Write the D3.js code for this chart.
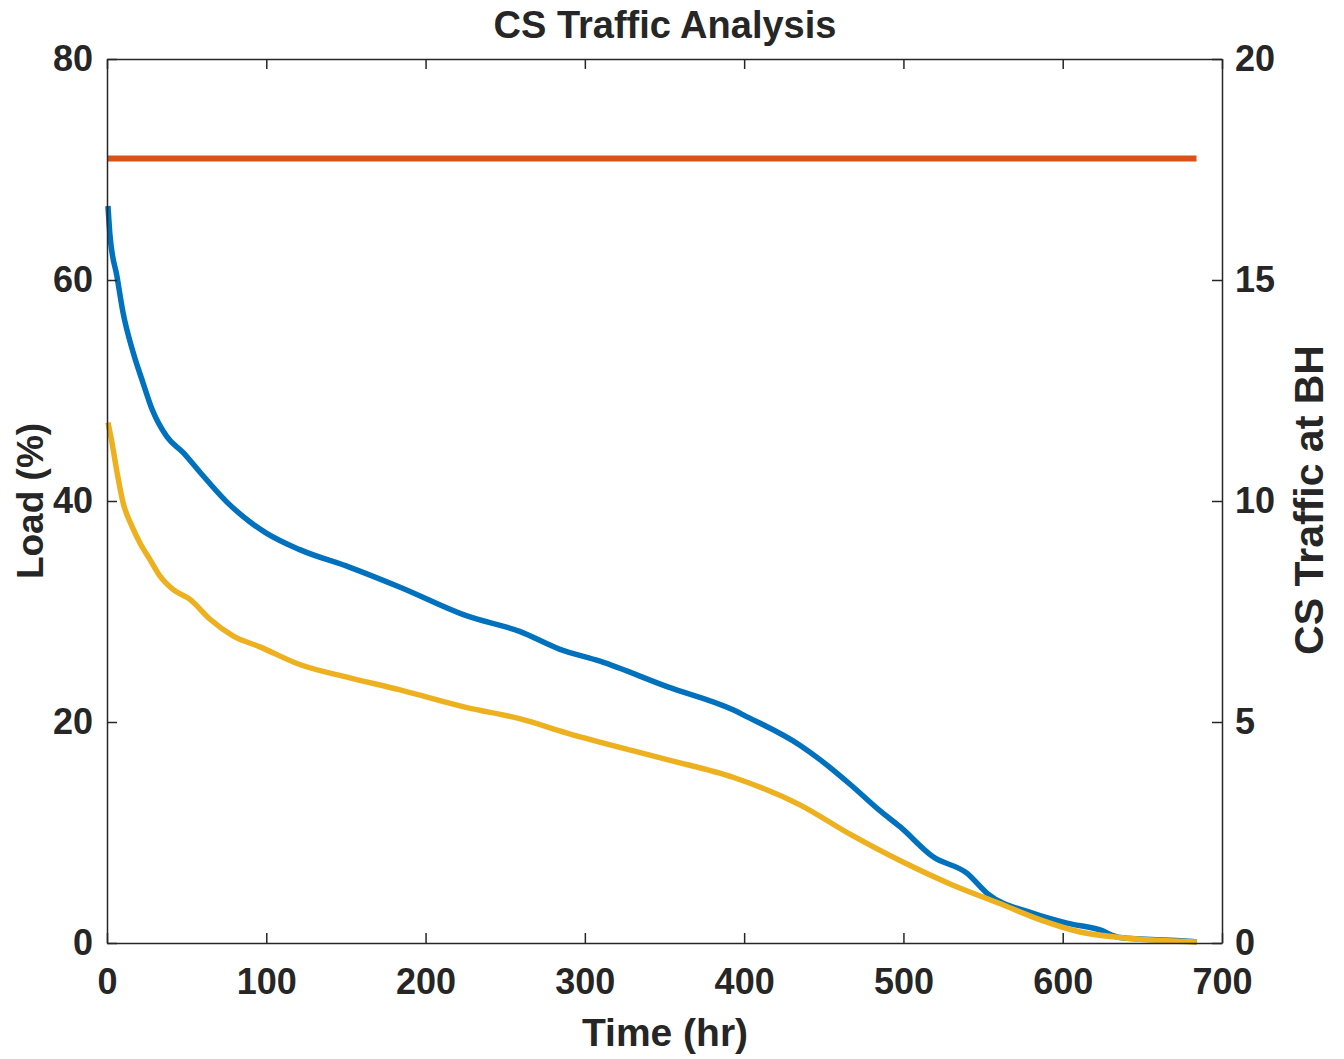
<!DOCTYPE html>
<html>
<head>
<meta charset="utf-8">
<script src="https://cdn.jsdelivr.net/npm/d3@7"></script>
<style>
  body { margin: 0; background: #fff; }
  text { font-family: "Liberation Sans", Arial, sans-serif; font-weight: bold; fill: #262626; }
</style>
</head>
<body>
<svg width="1344" height="1059"></svg>
<script>
// values
const xTicks = [0, 100, 200, 300, 400, 500, 600, 700];
const leftTicks = [0, 20, 40, 60, 80];
const rightTicks = [0, 5, 10, 15, 20];

const capacity = [[0, 71], [684, 71]];

const csLoad = [
  [0.6, 66.7], [1.9, 64.0], [6.3, 60.3], [10, 57.1], [16.3, 53.5], [22.6, 50.7],
  [28.3, 48.3], [37.7, 45.8], [47.7, 44.4], [58.4, 42.6], [75.3, 39.9], [89.8, 38.1],
  [100, 37.1], [121, 35.6], [152.5, 34.0], [184, 32.2], [226, 29.6], [259, 28.2],
  [284, 26.6], [309.5, 25.5], [351.6, 23.2], [393, 21.1], [400, 20.6], [435, 17.9],
  [447.6, 16.6], [467, 14.3], [485, 12.0], [498, 10.5], [518.6, 7.8], [540, 6.3],
  [552.5, 4.5], [581, 2.7], [602.7, 1.8], [623, 1.2], [636, 0.5], [674, 0.2], [684, 0.1]
];

const busyHour = [
  [0.6, 47.1], [3.1, 45.3], [6.3, 42.6], [10, 39.9], [15.7, 37.7], [20.7, 36.2],
  [27, 34.7], [33.3, 33.2], [41.4, 32.0], [52.1, 31.1], [64.7, 29.3], [79.1, 27.8],
  [96, 26.8], [121, 25.2], [152.5, 24.0], [184, 22.9], [226, 21.3], [259, 20.3],
  [288.8, 19.0], [351.6, 16.6], [393, 15.0], [435, 12.5], [467, 9.8],
  [500, 7.3], [530, 5.3], [560, 3.6], [586, 2.1], [611, 1.0], [636, 0.5], [684, 0.1]
];

const svg = d3.select("svg");
const m = { left: 107, right: 1222, top: 59, bottom: 943 };

const x = d3.scaleLinear().domain([0, 700]).range([m.left, m.right]);
const yL = d3.scaleLinear().domain([0, 80]).range([m.bottom, m.top]);
const yR = d3.scaleLinear().domain([0, 20]).range([m.bottom, m.top]);

const line = d3.line().x(d => x(d[0])).y(d => yL(d[1])).curve(d3.curveMonotoneX);

svg.append("path").datum(capacity)
  .attr("d", line).attr("fill", "none")
  .attr("stroke", "#D95319").attr("stroke-width", 6);

svg.append("path").datum(csLoad)
  .attr("d", line).attr("fill", "none")
  .attr("stroke", "#0072BD").attr("stroke-width", 5.5).attr("stroke-linejoin", "round");

svg.append("path").datum(busyHour)
  .attr("d", line).attr("fill", "none")
  .attr("stroke", "#EDB120").attr("stroke-width", 5.5).attr("stroke-linejoin", "round");

// axes, ticks pointing inward
const styleAxis = g => {
  g.select(".domain").attr("stroke", "#262626").attr("stroke-width", 1.5);
  g.selectAll(".tick line").attr("stroke", "#262626").attr("stroke-width", 1.5);
  g.selectAll(".tick text").style("font-size", "36px").attr("fill", "#262626");
};

svg.append("g").attr("transform", `translate(0,${m.bottom})`)
  .call(d3.axisBottom(x).tickValues(xTicks).tickSizeInner(-10).tickSizeOuter(0).tickPadding(25))
  .call(styleAxis);

svg.append("g").attr("transform", `translate(0,${m.top})`)
  .call(d3.axisTop(x).tickValues(xTicks).tickSizeInner(-10).tickSizeOuter(0).tickFormat(""))
  .call(styleAxis);

svg.append("g").attr("transform", `translate(${m.left},0)`)
  .call(d3.axisLeft(yL).tickValues(leftTicks).tickSizeInner(-10).tickSizeOuter(0).tickPadding(14))
  .call(styleAxis);

svg.append("g").attr("transform", `translate(${m.right},0)`)
  .call(d3.axisRight(yR).tickValues(rightTicks).tickSizeInner(-10).tickSizeOuter(0).tickPadding(13))
  .call(styleAxis);

svg.append("text").attr("x", 665).attr("y", 38)
  .attr("text-anchor", "middle").style("font-size", "38px").text("CS Traffic Analysis");

svg.append("text").attr("x", 665).attr("y", 1046)
  .attr("text-anchor", "middle").style("font-size", "39px").text("Time (hr)");

svg.append("text").attr("transform", "translate(43,501) rotate(-90)")
  .attr("text-anchor", "middle").style("font-size", "37px").text("Load (%)");

svg.append("text").attr("transform", "translate(1323,500) rotate(-90)")
  .attr("text-anchor", "middle").style("font-size", "41px").text("CS Traffic at BH");
</script>
</body>
</html>
